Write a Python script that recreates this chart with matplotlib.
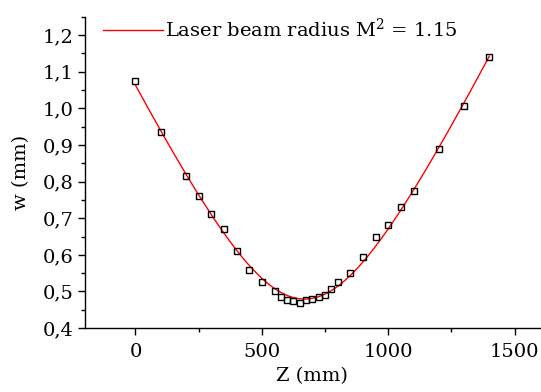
import numpy as np
import matplotlib.pyplot as plt
import matplotlib.ticker as mticker

# measured beam radius along the propagation axis
z_mm = [0, 100, 200, 250, 300, 350, 400, 450, 500, 550, 575, 600, 625, 650,
        675, 700, 725, 750, 775, 800, 850, 900, 950, 1000, 1050, 1100, 1200,
        1300, 1400]
w_mm = [1.075, 0.935, 0.815, 0.761, 0.711, 0.670, 0.610, 0.560, 0.525, 0.501,
        0.485, 0.478, 0.475, 0.469, 0.476, 0.480, 0.485, 0.491, 0.506, 0.527,
        0.550, 0.595, 0.650, 0.681, 0.730, 0.775, 0.890, 1.006, 1.140]

xticks = [0, 500, 1000, 1500]
yticks = [0.4, 0.5, 0.6, 0.7, 0.8, 0.9, 1.0, 1.1, 1.2]
ytick_labels = ['0,4', '0,5', '0,6', '0,7', '0,8', '0,9', '1,0', '1,1', '1,2']
legend_label = 'Laser beam radius M$^{\\mathregular{2}}$ = 1.15'

plt.rcParams['font.family'] = ['DejaVu Serif']
plt.rcParams['mathtext.fontset'] = 'dejavuserif'

z = np.array(z_mm, dtype=float)
w = np.array(w_mm)
# hyperbolic beam fit: w^2 is quadratic in z
coef = np.polyfit(z, w**2, 2)
zf = np.linspace(z.min(), z.max(), 300)
wf = np.sqrt(np.polyval(coef, zf))

fig = plt.figure(figsize=(5.41, 3.92), dpi=100)
ax = fig.add_axes([0.157, 0.163, 0.841, 0.794])

ax.plot(zf, wf, color='red', lw=1.0, label=legend_label)
ax.plot(z, w, ls='none', marker='s', ms=4.6, mfc='none', mec='black',
        mew=1.0)

ax.set_xlim(-200, 1600)
ax.set_ylim(0.4, 1.25)
ax.set_xticks(xticks)
ax.set_yticks(yticks)
ax.set_yticklabels(ytick_labels)
ax.xaxis.set_minor_locator(mticker.MultipleLocator(250))
ax.yaxis.set_minor_locator(mticker.MultipleLocator(0.05))

for s in ['top', 'right']:
    ax.spines[s].set_visible(False)
for s in ['left', 'bottom']:
    ax.spines[s].set_linewidth(1.0)

ax.tick_params(which='major', direction='out', length=5, width=1.0,
               labelsize=14)
ax.tick_params(axis='x', which='major', pad=6)
ax.tick_params(axis='y', which='major', pad=3)
ax.tick_params(which='minor', direction='out', length=3, width=1.0)

ax.set_xlabel('Z (mm)', fontsize=14, labelpad=4)
ax.set_ylabel('w (mm)', fontsize=14, labelpad=9)

ax.legend(loc='upper left', bbox_to_anchor=(0.01, 1.04), frameon=False,
          fontsize=14, handlelength=3.1, handletextpad=0.1,
          borderaxespad=0.3)

fig.savefig('out.png', dpi=100)
